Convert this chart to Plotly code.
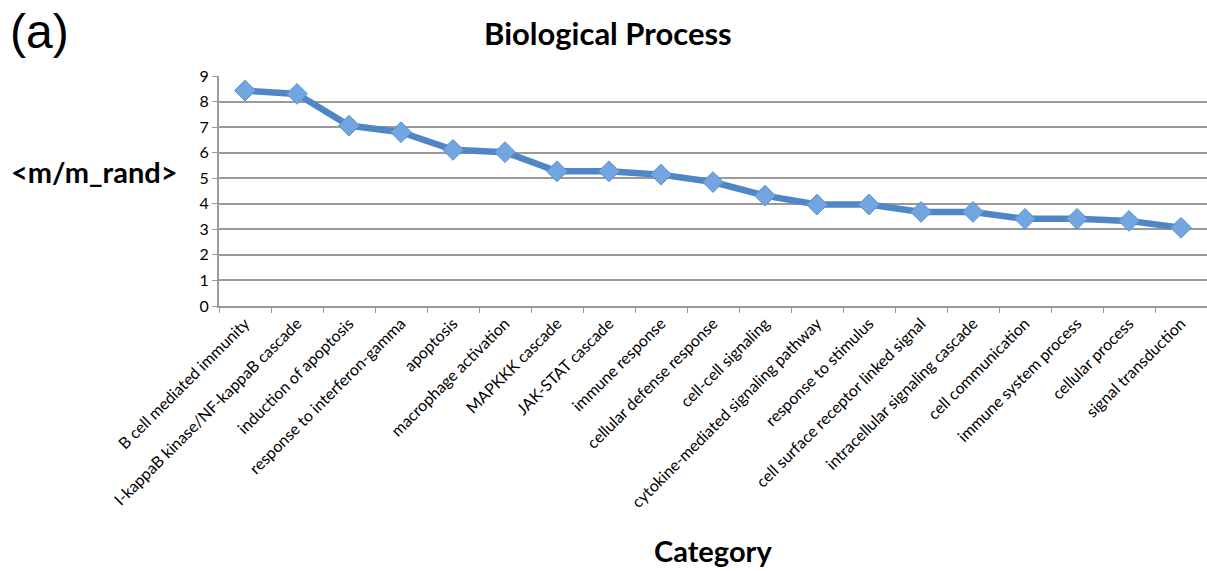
import plotly.graph_objects as go

categories = [
    "B cell mediated immunity",
    "I-kappaB kinase/NF-kappaB cascade",
    "induction of apoptosis",
    "response to interferon-gamma",
    "apoptosis",
    "macrophage activation",
    "MAPKKK cascade",
    "JAK-STAT cascade",
    "immune response",
    "cellular defense response",
    "cell-cell signaling",
    "cytokine-mediated signaling pathway",
    "response to stimulus",
    "cell surface receptor linked signal",
    "intracellular signaling cascade",
    "cell communication",
    "immune system process",
    "cellular process",
    "signal transduction",
]
values = [8.43, 8.30, 7.06, 6.80, 6.11, 6.02, 5.27, 5.27, 5.14, 4.85,
          4.32, 3.97, 3.97, 3.68, 3.68, 3.41, 3.41, 3.33, 3.06]
y_ticks = list(range(0, 10))

FONT = "Lato"

W, H = 1207, 571
L, R, T, B = 219, 0, 76, 265
pw, ph = W - L - R, H - T - B
def px(xp):
    return (xp - L) / pw
def py(yp):
    return (H - B - yp) / ph

fig = go.Figure()
fig.add_trace(go.Scatter(
    x=categories, y=values, mode="lines+markers",
    line=dict(color="#4f87c6", width=6.5),
    marker=dict(symbol="diamond", size=16, color="#73a5e0",
                line=dict(color="#5a90d0", width=1)),
    showlegend=False,
))

fig.update_layout(
    width=W, height=H,
    margin=dict(l=L, r=R, t=T, b=B),
    plot_bgcolor="white", paper_bgcolor="white",
    font=dict(family=FONT, color="black"),
    xaxis=dict(
        type="category", tickangle=-45, tickson="boundaries",
        ticks="outside", ticklen=5, tickcolor="#9a9a9a",
        showline=True, linecolor="#9a9a9a", linewidth=2,
        showgrid=False, tickfont=dict(size=16, family=FONT),
        range=[-0.5, len(categories) - 0.5],
    ),
    yaxis=dict(
        range=[0, 9], tickvals=y_ticks, ticks="outside", ticklen=5,
        tickcolor="#9a9a9a", showline=True, linecolor="#9a9a9a", linewidth=2,
        showgrid=True, gridcolor="#9a9a9a", gridwidth=1.5,
        tickfont=dict(size=16, family=FONT), zeroline=False,
    ),
    annotations=[
        dict(text="<b>Biological Process</b>", x=px(608), y=py(33), xref="paper", yref="paper",
             xanchor="center", yanchor="middle", showarrow=False,
             font=dict(size=31, family=FONT)),
        dict(text="(a)", x=px(8), y=py(31), xref="paper", yref="paper",
             xanchor="left", yanchor="middle", showarrow=False,
             font=dict(size=48, family="Liberation Sans")),
        dict(text="<b>&lt;m/m_rand&gt;</b>", x=px(9), y=py(171), xref="paper", yref="paper",
             xanchor="left", yanchor="middle", showarrow=False,
             font=dict(size=29, family=FONT)),
        dict(text="<b>Category</b>", x=px(713), y=py(550), xref="paper", yref="paper",
             xanchor="center", yanchor="middle", showarrow=False,
             font=dict(size=29, family=FONT)),
    ],
)

fig.write_html("out.html", config={"displayModeBar": False},
               post_script="document.body.style.margin='0';")
